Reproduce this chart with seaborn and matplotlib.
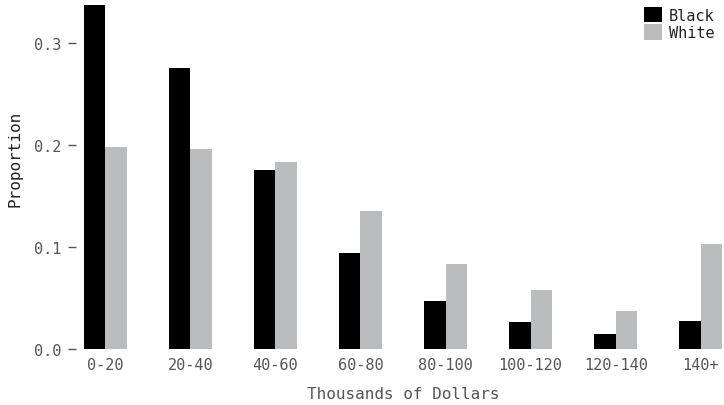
import matplotlib
matplotlib.use("Agg")
import matplotlib.pyplot as plt
import seaborn as sns
import pandas as pd

categories = ["0-20", "20-40", "40-60", "60-80", "80-100", "100-120", "120-140", "140+"]
black = [0.337, 0.275, 0.175, 0.094, 0.047, 0.026, 0.015, 0.027]
white = [0.198, 0.196, 0.183, 0.135, 0.083, 0.058, 0.037, 0.103]
groups = ["Black", "White"]
colors = {"Black": "#000000", "White": "#bbbcbe"}

df = pd.DataFrame({
    "income": categories * 2,
    "prop": black + white,
    "race": ["Black"] * len(categories) + ["White"] * len(categories),
})

sns.set_style("white")
plt.rcParams["font.family"] = ["DejaVu Sans Mono"]

fig = plt.figure(figsize=(7.24, 4.06), dpi=100)
ax = fig.add_axes([84 / 724, 56 / 406, 638 / 724, 350 / 406])
sns.barplot(data=df, x="income", y="prop", hue="race", hue_order=groups,
            palette=colors, width=0.5, gap=0, saturation=1, ax=ax,
            order=categories, linewidth=0, edgecolor="none", legend=True)

ax.set_xlim(-0.25, 7.25)
ax.set_ylim(0, 0.343)
ax.set_yticks([0.0, 0.1, 0.2, 0.3])
ax.set_yticklabels(["0.0", "0.1", "0.2", "0.3"])
for s in ax.spines.values():
    s.set_visible(False)
ax.spines["left"].set_position(("outward", 6))
ax.tick_params(axis="y", length=6, width=1, color="#555555", labelsize=11,
               labelcolor="#555555", pad=4, left=True)
ax.tick_params(axis="x", length=0, labelsize=11, labelcolor="#555555", pad=6)
ax.set_xlabel("Thousands of Dollars", fontsize=11.5, color="#555555", labelpad=10)
ax.set_ylabel("Proportion", fontsize=11.5, color="#222222")
ax.yaxis.set_label_coords(-62 / 638, 0.546)

leg = ax.legend(loc="upper right", bbox_to_anchor=(1.0, 1.0), frameon=False,
                fontsize=11, handlelength=1.2, handleheight=1.2,
                handletextpad=0.45, labelspacing=0.12, borderaxespad=0.3,
                borderpad=0.2)
for t in leg.get_texts():
    t.set_color("#222222")

fig.savefig("out.png", dpi=100)
